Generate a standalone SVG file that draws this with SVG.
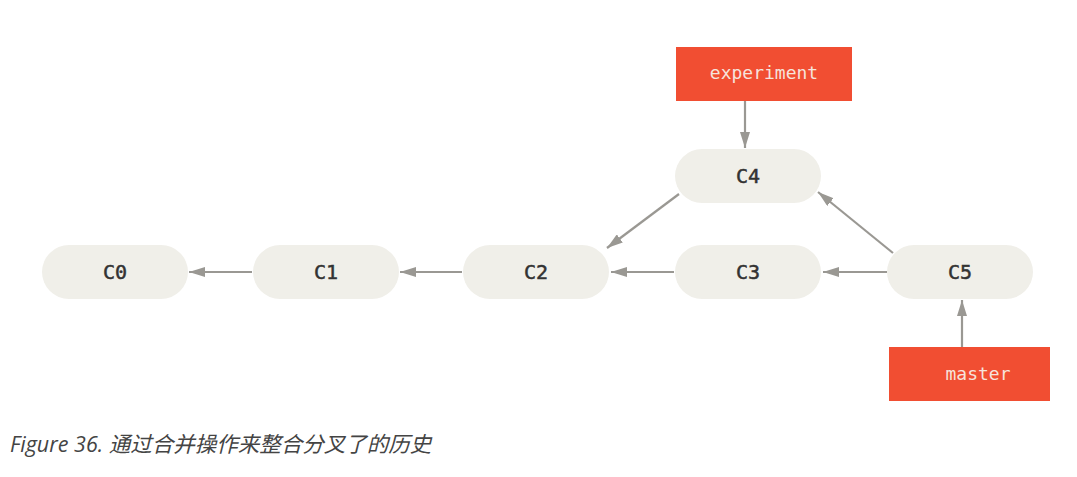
<svg xmlns="http://www.w3.org/2000/svg" width="1077" height="477" viewBox="0 0 1077 477">
<defs>
<marker id="arr" markerWidth="16" markerHeight="10" refX="16" refY="5" orient="auto" markerUnits="userSpaceOnUse">
<path d="M0,0 L16,5 L0,10 Z" fill="#9a9893"/>
</marker>
<style>
.pill{fill:#f0efe9}
.ptxt{font-family:"DejaVu Sans Mono","Liberation Mono",monospace;font-size:20px;fill:#333;stroke:#333;stroke-width:0.5;text-anchor:middle}
.ref{fill:#f14e32}
.rtxt{font-family:"DejaVu Sans Mono","Liberation Mono",monospace;font-size:18px;fill:#f6e3dc;text-anchor:middle}
.edge{stroke:#9a9893;stroke-width:2.2;fill:none;marker-end:url(#arr)}
.cap{font-family:"Open Sans","Noto Sans CJK SC",sans-serif;font-style:italic;font-size:21.5px;fill:#444}
</style>
</defs>
<rect width="1077" height="477" fill="#fff"/>
<g id="connectors">
<line class="edge" x1="252" y1="272" x2="189" y2="272"/>
<line class="edge" x1="462" y1="272" x2="400" y2="272"/>
<line class="edge" x1="674" y1="272" x2="611" y2="272"/>
<line class="edge" x1="887" y1="272" x2="823" y2="272"/>
<line class="edge" x1="679" y1="194" x2="607" y2="248"/>
<line class="edge" x1="893" y1="253" x2="818" y2="192"/>
<line class="edge" x1="745" y1="101" x2="745" y2="148"/>
<line class="edge" x1="962" y1="347" x2="962" y2="300"/>
</g>
<g id="C0"><rect class="pill" x="42" y="245" width="146" height="54" rx="27"/><text class="ptxt" x="115" y="279">C0</text></g>
<g id="C1"><rect class="pill" x="253" y="245" width="146" height="54" rx="27"/><text class="ptxt" x="326" y="279">C1</text></g>
<g id="C2"><rect class="pill" x="463" y="245" width="146" height="54" rx="27"/><text class="ptxt" x="536" y="279">C2</text></g>
<g id="C3"><rect class="pill" x="675" y="245" width="146" height="54" rx="27"/><text class="ptxt" x="748" y="279">C3</text></g>
<g id="C4"><rect class="pill" x="675" y="149" width="146" height="54" rx="27"/><text class="ptxt" x="748" y="183">C4</text></g>
<g id="C5"><rect class="pill" x="887" y="245" width="146" height="54" rx="27"/><text class="ptxt" x="960" y="279">C5</text></g>
<g id="experiment"><rect class="ref" x="676" y="47" width="176" height="54"/><text class="rtxt" x="764" y="79">experiment</text></g>
<g id="master"><rect class="ref" x="889" y="347" width="161" height="54"/><text class="rtxt" x="978" y="380">master</text></g>
<text class="cap" x="10" y="452">Figure 36. 通过合并操作来整合分叉了的历史</text>
</svg>
